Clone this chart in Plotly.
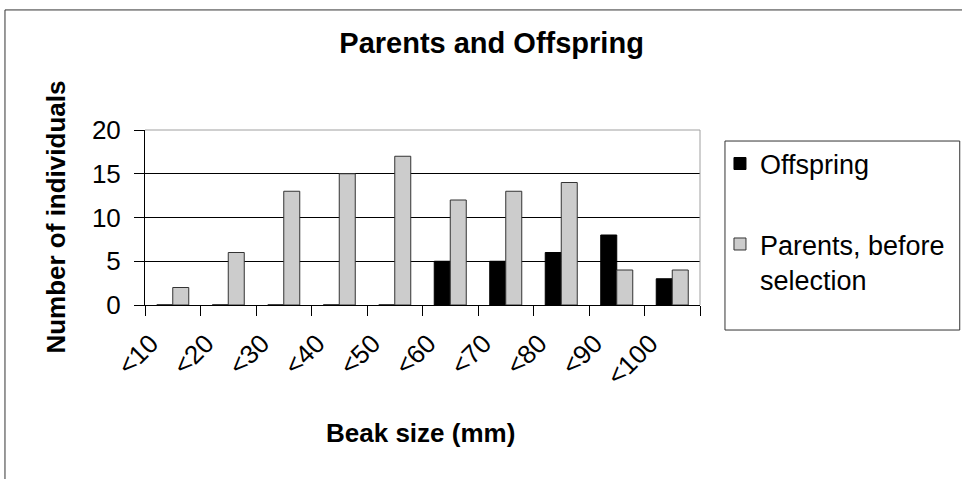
import plotly.graph_objects as go

# Beak-size classes (mm) and counts per class
categories = ["<10", "<20", "<30", "<40", "<50", "<60", "<70", "<80", "<90", "<100"]
offspring = [0, 0, 0, 0, 0, 5, 5, 6, 8, 3]
parents = [2, 6, 13, 15, 17, 12, 13, 14, 4, 4]

FONT = "Liberation Sans, Arial, sans-serif"

fig = go.Figure()
fig.add_trace(go.Bar(
    x=categories, y=offspring, name="Offspring",
    marker=dict(color="#000000", line=dict(color="#000000", width=1)),
    legend="legend",
))
fig.add_trace(go.Bar(
    x=categories, y=parents, name="Parents, before<br>selection",
    marker=dict(color="#cccccc", line=dict(color="#333333", width=1)),
    legend="legend2",
))

fig.update_layout(
    width=962, height=479,
    margin=dict(l=145, r=262, t=130, b=174),
    paper_bgcolor="white", plot_bgcolor="white",
    font=dict(family=FONT, color="#000000"),
    barmode="group", bargap=0.423, bargroupgap=0,
    title=dict(text="<b>Parents and Offspring</b>", font=dict(size=29, family=FONT),
               xref="container", yref="container", x=0.511, y=0.91,
               xanchor="center", yanchor="middle"),
    legend=dict(x=1.036, y=0.806, xanchor="left", yanchor="middle",
                font=dict(size=27, family=FONT), bgcolor="rgba(0,0,0,0)",
                borderwidth=0),
    legend2=dict(x=1.036, y=0.246, xanchor="left", yanchor="middle",
                 font=dict(size=27, family=FONT), bgcolor="rgba(0,0,0,0)",
                 borderwidth=0, valign="top"),
    showlegend=True,
)

fig.update_xaxes(
    type="category", tickson="boundaries", ticks="outside", ticklen=10,
    tickcolor="#000000", showline=True, linecolor="#000000", linewidth=1,
    tickangle=-45, tickfont=dict(size=26, family=FONT),
    ticklabelshift=-22, ticklabelstandoff=12, showgrid=False,
)
fig.update_yaxes(
    range=[0, 20], tickvals=[0, 5, 10, 15, 20], ticks="outside", ticklen=10,
    tickcolor="#000000", showline=True, linecolor="#000000", linewidth=1,
    showgrid=True, gridcolor="#000000", gridwidth=1, zeroline=False,
    tickfont=dict(size=26, family=FONT), ticklabelstandoff=8,
)

# Axis titles
fig.add_annotation(text="<b>Number of individuals</b>", textangle=-90,
                   xref="paper", yref="paper", x=-0.162, y=0.5,
                   xanchor="center", yanchor="middle", showarrow=False,
                   font=dict(size=26, family=FONT))
fig.add_annotation(text="<b>Beak size (mm)</b>",
                   xref="paper", yref="paper", x=0.497, y=-0.731,
                   xanchor="center", yanchor="middle", showarrow=False,
                   font=dict(size=26, family=FONT))

# Plot-area frame on top and right, chart border, legend box
fig.add_shape(type="line", xref="paper", yref="paper", x0=0, x1=1, y0=1, y1=1,
              line=dict(color="#a0a0a0", width=1), layer="above")
fig.add_shape(type="line", xref="paper", yref="paper", x0=1, x1=1, y0=0, y1=1,
              line=dict(color="#a0a0a0", width=1), layer="above")
fig.add_shape(type="rect", xref="paper", yref="paper",
              x0=-0.2523, x1=1.7, y0=-1.5, y1=1.686,
              line=dict(color="#333333", width=1), layer="below")
fig.add_shape(type="rect", xref="paper", yref="paper",
              x0=1.045, x1=1.468, y0=-0.143, y1=0.937,
              line=dict(color="#333333", width=1), layer="below")

fig.write_html("out.html")
